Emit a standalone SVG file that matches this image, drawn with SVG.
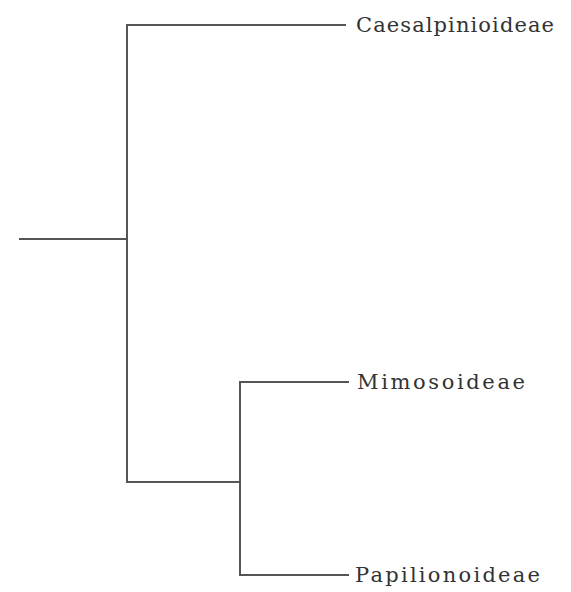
<svg xmlns="http://www.w3.org/2000/svg" width="571" height="592" viewBox="0 0 571 592">
<style>
.e{stroke:#555;stroke-width:2;fill:none;stroke-linecap:square}
.t{font-family:"DejaVu Serif","Liberation Serif",serif;font-size:21px;fill:#333}
</style>
<rect width="571" height="592" fill="#fff"/>
<g id="connectors">
<path class="e" d="M20,239 H127"/>
<path class="e" d="M127,25 V482"/>
<path class="e" d="M127,25 H345"/>
<path class="e" d="M127,482 H240"/>
<path class="e" d="M240,382 V575"/>
<path class="e" d="M240,382 H348"/>
<path class="e" d="M240,575 H348"/>
</g>
<g id="caesalpinioideae"><text class="t" x="356" y="32" textLength="198" lengthAdjust="spacing">Caesalpinioideae</text></g>
<g id="mimosoideae"><text class="t" x="357" y="389" textLength="168" lengthAdjust="spacing">Mimosoideae</text></g>
<g id="papilionoideae"><text class="t" x="355" y="582" textLength="185" lengthAdjust="spacing">Papilionoideae</text></g>
</svg>
